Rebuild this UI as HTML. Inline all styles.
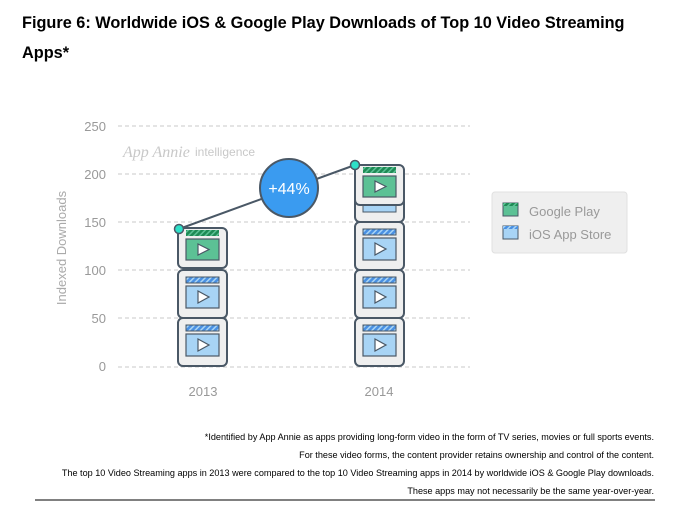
<!DOCTYPE html>
<html><head><style>
body{margin:0;background:#fff;width:680px;height:518px;overflow:hidden;font-family:"Liberation Sans",sans-serif}
</style></head><body>
<svg width="680" height="518" xmlns="http://www.w3.org/2000/svg" font-family="Liberation Sans, sans-serif">
<defs>
<pattern id="hb" width="4" height="4" patternUnits="userSpaceOnUse" patternTransform="rotate(45)"><rect width="4" height="4" fill="#4a90e2"/><rect width="1.5" height="4" fill="#a8d4f5"/></pattern>
<pattern id="hg" width="4" height="4" patternUnits="userSpaceOnUse" patternTransform="rotate(45)"><rect width="4" height="4" fill="#1e8a55"/><rect width="1.5" height="4" fill="#5cc195"/></pattern>
<g id="ios">
<rect x="0" y="0" width="49" height="48" rx="5" fill="#efefef" stroke="#4a5866" stroke-width="2"/>
<rect x="8" y="7" width="33" height="6" fill="url(#hb)" stroke="#4a5866" stroke-width="1"/>
<rect x="8" y="16" width="33" height="22" fill="#a8d4f5" stroke="#4a5866" stroke-width="1.2"/>
<path d="M20 21 L31 27 L20 33 Z" fill="#fff" stroke="#4a5866" stroke-width="1.2"/>
</g>
<g id="gp">
<rect x="0" y="0" width="49" height="40" rx="5" fill="#efefef" stroke="#4a5866" stroke-width="2"/>
<rect x="8" y="2" width="33" height="6" fill="url(#hg)"/>
<rect x="8" y="11" width="33" height="21" fill="#5cc195" stroke="#4a5866" stroke-width="1.2"/>
<path d="M20 16 L31 21.5 L20 27 Z" fill="#fff" stroke="#4a5866" stroke-width="1.2"/>
</g>
</defs>
<text x="22" y="28" font-size="16.3" font-weight="bold" fill="#000">Figure 6: Worldwide iOS &amp; Google Play Downloads of Top 10 Video Streaming</text>
<text x="22" y="58" font-size="16.3" font-weight="bold" fill="#000">Apps*</text>
<g stroke="#c8c8c8" stroke-dasharray="4,3" stroke-width="1">
<line x1="118" y1="126" x2="470" y2="126"/><line x1="118" y1="174" x2="470" y2="174"/>
<line x1="118" y1="222" x2="470" y2="222"/><line x1="118" y1="270" x2="470" y2="270"/>
<line x1="118" y1="318" x2="470" y2="318"/><line x1="118" y1="367" x2="470" y2="367"/>
</g>
<g font-size="13" fill="#999" text-anchor="end">
<text x="106" y="131">250</text><text x="106" y="179">200</text><text x="106" y="227">150</text>
<text x="106" y="275">100</text><text x="106" y="323">50</text><text x="106" y="371">0</text>
</g>
<text transform="translate(66,248) rotate(-90)" font-size="13" fill="#aaa" text-anchor="middle">Indexed Downloads</text>
<text x="123" y="157" font-size="16" font-style="italic" fill="#c8c8c8" font-family="Liberation Serif, serif">App Annie</text>
<text x="195" y="156" font-size="12" fill="#c8c8c8">intelligence</text>
<text x="203" y="396" font-size="13" fill="#999" text-anchor="middle">2013</text>
<text x="379" y="396" font-size="13" fill="#999" text-anchor="middle">2014</text>
<use href="#ios" x="178" y="318"/><use href="#ios" x="178" y="270"/><use href="#gp" x="178" y="228"/>
<use href="#ios" x="355" y="318"/><use href="#ios" x="355" y="270"/><use href="#ios" x="355" y="222"/>
<rect x="355" y="197" width="49" height="25" rx="5" fill="#efefef" stroke="#4a5866" stroke-width="2"/>
<rect x="363" y="200" width="33" height="12" fill="#a8d4f5" stroke="#4a5866" stroke-width="1"/>
<use href="#gp" x="355" y="165"/>
<line x1="179" y1="229" x2="355" y2="165" stroke="#4a5866" stroke-width="2"/>
<circle cx="179" cy="229" r="4.5" fill="#2de0c8" stroke="#4a5866" stroke-width="1.5"/>
<circle cx="355" cy="165" r="4.5" fill="#2de0c8" stroke="#4a5866" stroke-width="1.5"/>
<circle cx="289" cy="188" r="29" fill="#3a9bf0" stroke="#4a5866" stroke-width="2"/>
<text x="289" y="194" font-size="16" fill="#fff" text-anchor="middle">+44%</text>
<rect x="492" y="192" width="135" height="61" rx="3" fill="#efefef" stroke="#e0e0e0"/>
<rect x="503" y="203" width="15" height="13" fill="#5cc195" stroke="#4a5866"/><rect x="503" y="203" width="15" height="3" fill="url(#hg)"/>
<rect x="503" y="226" width="15" height="13" fill="#a8d4f5" stroke="#4a5866"/><rect x="503" y="226" width="15" height="3" fill="url(#hb)"/>
<text x="529" y="216" font-size="13" fill="#999">Google Play</text>
<text x="529" y="239" font-size="13" fill="#999">iOS App Store</text>
<g font-size="9.1" fill="#000" text-anchor="end">
<text x="654" y="440">*Identified by App Annie as apps providing long-form video in the form of TV series, movies or full sports events.</text>
<text x="654" y="458">For these video forms, the content provider retains ownership and control of the content.</text>
<text x="654" y="476">The top 10 Video Streaming apps in 2013 were compared to the top 10 Video Streaming apps in 2014 by worldwide iOS &amp; Google Play downloads.</text>
<text x="654" y="494">These apps may not necessarily be the same year-over-year.</text>
</g>
<line x1="35" y1="500" x2="655" y2="500" stroke="#000" stroke-width="1"/>
</svg>
</body></html>
